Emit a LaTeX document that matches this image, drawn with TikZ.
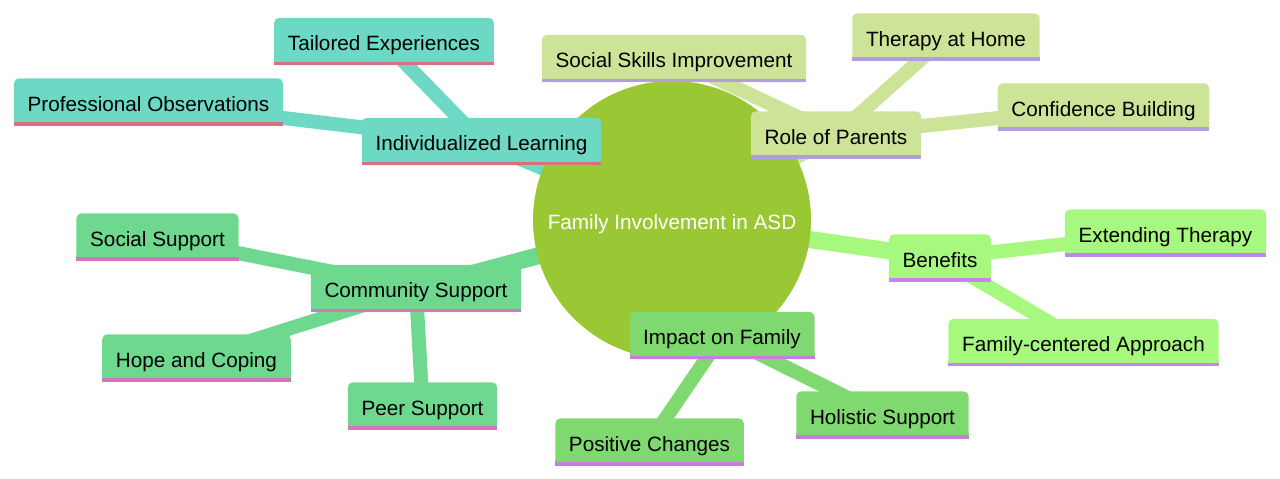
\documentclass[tikz,border=0pt]{standalone}
\usepackage{fontspec}
\setmainfont{Liberation Sans}
\usetikzlibrary{backgrounds}
\definecolor{rootgreen}{HTML}{9AC834}
\definecolor{tealbox}{HTML}{6DD8C4}
\definecolor{tealline}{HTML}{D8707D}
\definecolor{olivebox}{HTML}{CDE498}
\definecolor{oliveline}{HTML}{B19DE2}
\definecolor{limebox}{HTML}{A6F97E}
\definecolor{limeline}{HTML}{C985EE}
\definecolor{impactbox}{HTML}{80D970}
\definecolor{impactline}{HTML}{C77DDA}
\definecolor{commbox}{HTML}{6ED88F}
\definecolor{commline}{HTML}{D276C0}
\pgfdeclarelayer{rootedges}
\pgfdeclarelayer{rootnode}
\pgfdeclarelayer{leafedges}
\pgfsetlayers{rootedges,rootnode,leafedges,main}
\tikzset{
  mm/.style 2 args={inner xsep=13.5pt,inner ysep=0pt,
    minimum height=47pt,text height=18pt,text depth=0pt,font=\fontsize{20.7}{24}\selectfont,
    append after command={\pgfextra{
      \fill[#1,rounded corners=5pt] (\tikzlastnode.south west) rectangle (\tikzlastnode.north east);
      \fill[#1] (\tikzlastnode.south west) rectangle ++(6pt,6pt);
      \fill[#1] (\tikzlastnode.south east) rectangle ++(-6pt,6pt);
      \fill[#2] (\tikzlastnode.south west) rectangle ([yshift=3.5pt]\tikzlastnode.south east);}}},
  redge/.style={draw=#1,line width=17pt},
  ledge/.style={draw=#1,line width=14pt},
}

\begin{document}
\begin{tikzpicture}[x=1pt,y=-1pt]
  \useasboundingbox (0,0) rectangle (1280,479);
  % centre
  \begin{pgfonlayer}{rootnode}
    \node[circle,fill=rootgreen,minimum size=278pt,inner sep=0pt,text=white,
      text height=18pt,text depth=0pt,font=\fontsize{20.7}{24}\selectfont] (root) at (672,220) {Family Involvement in ASD};
  \end{pgfonlayer}
  % individualized learning
  \node[mm={tealbox}{tealline}] (indiv) at (481.5,141.5) {Individualized Learning};
  \node[mm={tealbox}{tealline}] (tailored) at (384,41.5) {Tailored Experiences};
  \node[mm={tealbox}{tealline}] (profobs) at (148.5,102) {Professional Observations};
  % role of parents
  \node[mm={olivebox}{oliveline}] (parents) at (836,135) {Role of Parents};
  \node[mm={olivebox}{oliveline}] (skills) at (674,58.5) {Social Skills Improvement};
  \node[mm={olivebox}{oliveline}] (homether) at (946,37) {Therapy at Home};
  \node[mm={olivebox}{oliveline}] (confid) at (1103.5,107) {Confidence Building};
  % benefits
  \node[mm={limebox}{limeline}] (benefits) at (940,258) {Benefits};
  \node[mm={limebox}{limeline}] (extend) at (1165.5,233) {Extending Therapy};
  \node[mm={limebox}{limeline}] (famcent) at (1083.5,342.5) {Family-centered Approach};
  % impact on family
  \node[mm={impactbox}{impactline}] (impact) at (722,335.5) {Impact on Family};
  \node[mm={impactbox}{impactline}] (poschg) at (649.5,442) {Positive Changes};
  \node[mm={impactbox}{impactline}] (holistic) at (882.5,415) {Holistic Support};
  % community support
  \node[mm={commbox}{commline}] (commun) at (416,288.5) {Community Support};
  \node[mm={commbox}{commline}] (socsup) at (157.5,237) {Social Support};
  \node[mm={commbox}{commline}] (hope) at (196.5,358) {Hope and Coping};
  \node[mm={commbox}{commline}] (peer) at (422.5,406) {Peer Support};

  \begin{pgfonlayer}{rootedges}
    \foreach \s/\c in {indiv/tealbox,parents/olivebox,benefits/limebox,impact/impactbox,commun/commbox}
      \draw[redge=\c] (root.center) -- (\s.center);
  \end{pgfonlayer}
  \begin{pgfonlayer}{leafedges}
    \foreach \a/\b/\c in {indiv/tailored/tealbox,indiv/profobs/tealbox,
        parents/skills/olivebox,parents/homether/olivebox,parents/confid/olivebox,
        benefits/extend/limebox,benefits/famcent/limebox,
        impact/poschg/impactbox,impact/holistic/impactbox,
        commun/socsup/commbox,commun/hope/commbox,commun/peer/commbox}
      \draw[ledge=\c] (\a.center) -- (\b.center);
  \end{pgfonlayer}
\end{tikzpicture}
\end{document}
